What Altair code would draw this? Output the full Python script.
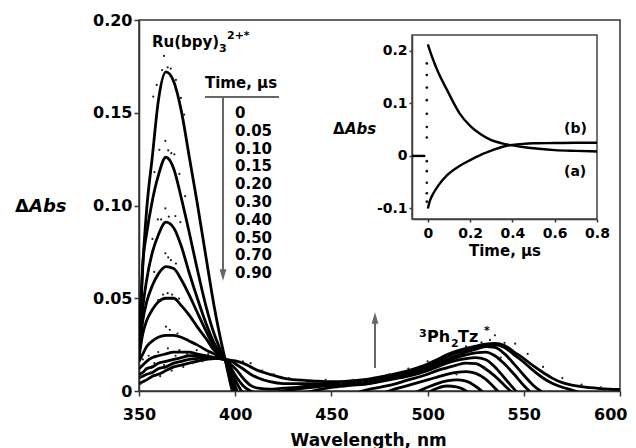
import altair as alt
import pandas as pd

# ---------------- data ----------------
times = ["0", "0.05", "0.10", "0.15", "0.20", "0.30", "0.40", "0.50", "0.70", "0.90"]

wavelength = [350, 352, 354, 357, 360, 364, 368, 372, 376, 380, 385, 389, 392, 395, 398,
              401, 404, 408, 412, 418, 425, 432, 440, 450, 460, 470, 480, 490, 500, 505,
              510, 515, 520, 525, 530, 535, 540, 545, 550, 555, 560, 565, 570, 575, 580,
              590, 600]

abs_t000 = [0.022, 0.068, 0.098, 0.127, 0.156, 0.172, 0.167, 0.151, 0.127, 0.103, 0.071, 0.046, 0.030, 0.016, 0.002,
            -0.010, -0.022, -0.03, -0.03, -0.03, -0.03, -0.03, -0.03, -0.03, -0.03, -0.03, -0.03, -0.03, -0.03, -0.03,
            -0.03, -0.03, -0.03, -0.03, -0.03, -0.03, -0.03, -0.03, -0.03, -0.03, -0.03, -0.03, -0.03, -0.03, -0.03,
            -0.03, -0.03]
abs_t005 = [0.022, 0.069, 0.085, 0.103, 0.116, 0.126, 0.120, 0.104, 0.086, 0.067, 0.045, 0.031, 0.023, 0.016, 0.003,
            -0.008, -0.018, -0.02, -0.02, -0.02, -0.02, -0.02, -0.02, -0.02, -0.02, -0.02, -0.018, -0.010, -0.001, 0.0015,
            0.0027, 0.0022, 0.0, -0.005, -0.012, -0.02, -0.02, -0.02, -0.02, -0.02, -0.02, -0.02, -0.02, -0.02, -0.02,
            -0.02, -0.02]
abs_t010 = [0.020, 0.045, 0.060, 0.075, 0.084, 0.091, 0.088, 0.078, 0.064, 0.051, 0.036, 0.026, 0.021, 0.017, 0.005,
            -0.004, -0.012, -0.018, -0.02, -0.02, -0.02, -0.02, -0.02, -0.02, -0.02, -0.02, -0.012, -0.003, 0.002, 0.004,
            0.0054, 0.006, 0.0053, 0.0025, -0.002, -0.01, -0.02, -0.02, -0.02, -0.02, -0.02, -0.02, -0.02, -0.02, -0.02,
            -0.02, -0.02]
abs_t015 = [0.020, 0.038, 0.048, 0.057, 0.063, 0.067, 0.066, 0.060, 0.052, 0.043, 0.032, 0.024, 0.020, 0.017, 0.007,
            -0.002, -0.008, -0.013, -0.016, -0.018, -0.018, -0.018, -0.016, -0.012, -0.008, -0.004, 0.000, 0.003, 0.006, 0.0075,
            0.009, 0.010, 0.0104, 0.0095, 0.0065, 0.0015, -0.004, -0.010, -0.015, -0.02, -0.02, -0.02, -0.02, -0.02, -0.02,
            -0.02, -0.02]
abs_t020 = [0.018, 0.031, 0.038, 0.044, 0.048, 0.050, 0.050, 0.046, 0.041, 0.035, 0.028, 0.022, 0.019, 0.017, 0.009,
            0.000, -0.005, -0.009, -0.011, -0.012, -0.012, -0.011, -0.009, -0.006, -0.002, 0.001, 0.003, 0.006, 0.009, 0.011,
            0.0125, 0.014, 0.015, 0.0148, 0.012, 0.008, 0.003, -0.002, -0.008, -0.013, -0.016, -0.016, -0.016, -0.016, -0.016,
            -0.016, -0.016]
abs_t030 = [0.016, 0.020, 0.024, 0.027, 0.029, 0.030, 0.030, 0.029, 0.027, 0.025, 0.022, 0.020, 0.018, 0.017, 0.011,
            0.004, -0.001, -0.004, -0.005, -0.005, -0.004, -0.002, 0.000, 0.002, 0.003, 0.004, 0.006, 0.008, 0.011, 0.013,
            0.015, 0.0165, 0.0175, 0.018, 0.017, 0.013, 0.007, 0.001, -0.005, -0.010, -0.013, -0.013, -0.013, -0.013, -0.013,
            -0.013, -0.013]
abs_t040 = [0.012, 0.014, 0.016, 0.018, 0.019, 0.020, 0.021, 0.021, 0.021, 0.020, 0.019, 0.018, 0.0175, 0.017, 0.012,
            0.007, 0.003, 0.000, -0.001, -0.001, 0.000, 0.001, 0.002, 0.003, 0.004, 0.005, 0.007, 0.009, 0.012, 0.014,
            0.016, 0.018, 0.0195, 0.0205, 0.021, 0.019, 0.0145, 0.009, 0.003, -0.002, -0.006, -0.01, -0.01, -0.01, -0.01,
            -0.01, -0.01]
abs_t050 = [0.009, 0.010, 0.012, 0.013, 0.015, 0.016, 0.017, 0.018, 0.019, 0.019, 0.0185, 0.018, 0.0175, 0.017, 0.014,
            0.011, 0.007, 0.003, 0.0015, 0.001, 0.0015, 0.002, 0.003, 0.0035, 0.0045, 0.0055, 0.0075, 0.010, 0.013, 0.015,
            0.017, 0.019, 0.021, 0.0225, 0.024, 0.0235, 0.020, 0.0145, 0.0085, 0.003, -0.001, -0.005, -0.008, -0.008, -0.008,
            -0.008, -0.008]
abs_t070 = [0.007, 0.008, 0.009, 0.010, 0.012, 0.013, 0.015, 0.016, 0.017, 0.0175, 0.018, 0.018, 0.0175, 0.017, 0.016,
            0.014, 0.012, 0.009, 0.007, 0.005, 0.004, 0.004, 0.004, 0.004, 0.005, 0.006, 0.008, 0.0105, 0.0135, 0.016,
            0.0185, 0.0205, 0.0222, 0.0236, 0.0248, 0.025, 0.0235, 0.0195, 0.0155, 0.011, 0.007, 0.004, 0.002, 0.0005, -0.001,
            -0.003, -0.004]
abs_t090 = [0.004, 0.005, 0.006, 0.008, 0.009, 0.011, 0.013, 0.014, 0.015, 0.016, 0.017, 0.0175, 0.0175, 0.017, 0.0165,
            0.016, 0.015, 0.013, 0.011, 0.009, 0.007, 0.006, 0.0055, 0.005, 0.0055, 0.0065, 0.0085, 0.011, 0.0145, 0.017,
            0.0195, 0.0215, 0.023, 0.0242, 0.0252, 0.0256, 0.0245, 0.021, 0.0175, 0.0135, 0.010, 0.0068, 0.0045, 0.0032, 0.0023,
            0.0013, 0.0008]

# scattered measured points
dot_wl = [363, 362, 364.9, 366.5, 359.2, 357.4, 369.2, 371.8, 373.5, 363.7, 360.6, 365.2, 366.8, 368.4, 358.0,
          371.0, 374.0, 363.7, 359.8, 361.5, 365.5, 368.9, 371.5, 357.0, 363.7, 365.2, 369.2, 357.9, 366.6, 364.9,
          370.8, 360.0, 362.5, 367.2, 364.0, 366.0, 355.4, 370.0, 358.0, 352.0, 353.5, 355.0, 356.0, 358.0, 360.0,
          361.0, 363.0, 365.0, 367.0, 369.0, 371.0, 373.0, 375.0, 378.0, 380.0, 383.0, 386.0, 350.5, 351.0, 404,
          408, 414, 420, 428, 436, 447, 455, 461, 466, 535, 532.4, 540, 545.5, 528, 520,
          552, 560, 570, 580, 590, 525, 530, 515, 538, 510, 500, 490, 480]
dot_abs = [0.1806, 0.1730, 0.1745, 0.1738, 0.1650, 0.1587, 0.1677, 0.1580, 0.1490, 0.1348, 0.1300, 0.1297, 0.1282, 0.1276, 0.1180,
           0.1170, 0.1050, 0.0985, 0.0925, 0.0925, 0.0940, 0.0943, 0.0910, 0.0820, 0.0742, 0.0720, 0.0687, 0.0642, 0.0705, 0.0527,
           0.0498, 0.0490, 0.0520, 0.0520, 0.0347, 0.0330, 0.0259, 0.0310, 0.0280, 0.0170, 0.0120, 0.0190, 0.0100, 0.0150, 0.0210,
           0.0080, 0.0140, 0.0230, 0.0110, 0.0190, 0.0220, 0.0130, 0.0200, 0.0150, 0.0220, 0.0160, 0.0200, 0.0080, 0.0040, 0.0160,
           0.0150, 0.0110, 0.0090, 0.0070, 0.0060, 0.0060, 0.0040, 0.0060, 0.0050, 0.0300, 0.0275, 0.0260, 0.0255, 0.0262, 0.0240,
           0.0200, 0.0130, 0.0070, 0.0035, 0.0020, 0.0150, 0.0120, 0.0090, 0.0180, 0.0190, 0.0160, 0.0120, 0.0090]

# inset kinetic traces
inset_t = [0, 0.01, 0.025, 0.05, 0.09, 0.15, 0.2, 0.25, 0.3, 0.35, 0.4, 0.45, 0.5, 0.6, 0.7, 0.8]
trace_a = [0.212, 0.200, 0.183, 0.158, 0.126, 0.081, 0.057, 0.041, 0.030, 0.024, 0.020, 0.017, 0.0145, 0.011, 0.0095, 0.0085]
trace_b = [-0.100, -0.085, -0.072, -0.056, -0.037, -0.019, -0.008, 0.002, 0.010, 0.017, 0.021, 0.023, 0.024, 0.0245, 0.025, 0.025]
pre_t = [-0.075, -0.012]
pre_v = [0.0, 0.0]
spike_t = -0.005
spike_v = [0.176, 0.154, 0.130, 0.106, 0.080, 0.055, 0.035, -0.010, -0.029, -0.051, -0.071, -0.087]

main_x_ticks = [350, 400, 450, 500, 550, 600]
main_y_ticks = [0, 0.05, 0.10, 0.15, 0.20]
inset_x_ticks = [0, 0.2, 0.4, 0.6, 0.8]
inset_y_ticks = [-0.1, 0, 0.1, 0.2]

# ---------------- tables ----------------
curves = [abs_t000, abs_t005, abs_t010, abs_t015, abs_t020, abs_t030, abs_t040, abs_t050, abs_t070, abs_t090]
rows = []
for tname, vals in zip(times, curves):
    for w, v in zip(wavelength, vals):
        rows.append({"wl": w, "abs": v, "time": tname})
spec_df = pd.DataFrame(rows)
dots_df = pd.DataFrame({"wl": dot_wl, "abs": dot_abs})

trace_rows = []
for name, vals in (("a", trace_a), ("b", trace_b)):
    for t, v in zip(inset_t, vals):
        trace_rows.append({"t": t, "v": v, "s": name})
trace_df = pd.DataFrame(trace_rows)
pre_df = pd.DataFrame({"t": pre_t, "v": pre_v})
spike_df = pd.DataFrame({"t": [spike_t] * len(spike_v), "v": spike_v})
frame_df = pd.DataFrame({"t": [-0.075], "t2": [0.8], "v": [-0.12], "v2": [0.23]})
one = pd.DataFrame({"k": [0]})

FONT = "DejaVu Sans"
OX, OY = 139, 20          # page position of the plot origin
W, H = 481, 371

x_main = alt.X("wl:Q", scale=alt.Scale(domain=[350, 600], nice=False, zero=False),
               axis=alt.Axis(values=main_x_ticks, title="Wavelength, nm", format="d",
                             titleX=151, titleY=54, titleAlign="left", titleBaseline="alphabetic",
                             titleFontSize=17, labelPadding=10,
                             labelAlign=alt.condition("datum.value == 600", alt.value("right"), alt.value("center")),
                             labelOffset=alt.condition("datum.value == 600", alt.value(7), alt.value(0))))
y_main = alt.Y("abs:Q", scale=alt.Scale(domain=[0, 0.2], nice=False, zero=False),
               axis=alt.Axis(values=main_y_ticks, title=None, labelPadding=2,
                             labelExpr="datum.value == 0 ? '0' : format(datum.value, '.2f')"))

lines = alt.Chart(spec_df).mark_line(clip=True, interpolate="monotone", color="black",
                                     strokeWidth=2.8).encode(x=x_main, y=y_main, detail="time:N")
dots = alt.Chart(dots_df).mark_circle(size=5, color="#222", opacity=1, clip=True).encode(x=x_main, y=y_main)


def txt(s, px, py, size, italic=False, align="left", color="black"):
    return alt.Chart(one).mark_text(text=s, font=FONT, fontSize=size, fontWeight="bold",
                                    fontStyle="italic" if italic else "normal", color=color,
                                    align=align, baseline="alphabetic").encode(
        x=alt.value(px - OX), y=alt.value(py - OY))


def hrule(x1, x2, y, color="#666", w=2):
    return alt.Chart(one).mark_rule(color=color, strokeWidth=w).encode(
        x=alt.value(x1 - OX), x2=alt.value(x2 - OX), y=alt.value(y - OY))


def vrule(x, y1, y2, color="#666", w=2):
    return alt.Chart(one).mark_rule(color=color, strokeWidth=w).encode(
        x=alt.value(x - OX), y=alt.value(y1 - OY), y2=alt.value(y2 - OY))


def head(x, y, down=True, color="#666"):
    shape = "M-0.6,-1L0.6,-1L0,1Z" if down else "M-0.6,1L0.6,1L0,-1Z"
    return alt.Chart(one).mark_point(shape=shape, filled=True, size=130, color=color,
                                     opacity=1, strokeWidth=0).encode(
        x=alt.value(x - OX), y=alt.value(y - OY))


annots = [
    txt("Ru(bpy)", 152, 47, 15),
    txt("3", 219, 52, 11),
    txt("2+*", 227, 39, 11),
    txt("Time, μs", 205, 88, 15),
    hrule(205, 279, 97),
    vrule(223, 97, 271),
    head(223, 275, True),
    txt("Δ", 15, 212, 18),
    txt("Abs", 29, 212, 18, italic=True),
    txt("3", 419, 337, 11),
    txt("Ph", 427, 342, 16),
    txt("2", 451, 347, 11),
    txt("Tz", 458, 342, 16),
    txt("*", 484, 334, 11),
    vrule(375, 368, 320),
    head(375, 318, False),
]
for i, lab in enumerate(times):
    annots.append(txt(lab, 235, 118 + 17.8 * i, 15))

main_layer = alt.layer(lines, dots, *annots)

# ---------------- inset ----------------
ix = alt.X("t:Q", scale=alt.Scale(domain=[-0.075, 0.8], range=[412 - OX, 597 - OX], nice=False, zero=False),
           axis=alt.Axis(orient="bottom", offset=-(H - (219 - OY)), values=inset_x_ticks, title=None,
                         labelFontSize=14, tickSize=3, labelPadding=4,
                         labelExpr="datum.value == 0 ? '0' : format(datum.value, '.1f')"))
iy = alt.Y("v:Q", scale=alt.Scale(domain=[-0.12, 0.23], range=[219 - OY, 35 - OY], nice=False, zero=False),
           axis=alt.Axis(orient="left", offset=-(412 - OX), values=inset_y_ticks, title=None,
                         labelFontSize=14, tickSize=3, labelPadding=2,
                         labelExpr="datum.value == 0 ? '0' : (datum.value < 0 ? '-' : '') + format(abs(datum.value), '.1f')"))

frame = alt.Chart(frame_df).mark_rect(fillOpacity=0, stroke="#444", strokeWidth=1.5).encode(
    x=ix, x2="t2:Q", y=iy, y2="v2:Q")
traces = alt.Chart(trace_df).mark_line(interpolate="monotone", color="black", strokeWidth=2.4).encode(
    x=ix, y=iy, detail="s:N")
pre = alt.Chart(pre_df).mark_line(color="black", strokeWidth=2.4).encode(x=ix, y=iy)
spike = alt.Chart(spike_df).mark_circle(size=7, color="#111", opacity=1).encode(x=ix, y=iy)

inset_annots = [
    txt("(b)", 564, 133, 14),
    txt("(a)", 564, 176, 14),
    txt("Δ", 333, 134, 15),
    txt("Abs", 345, 134, 15, italic=True),
    txt("Time, μs", 505, 256, 15, align="center"),
]
inset_layer = alt.layer(frame, traces, pre, spike, *inset_annots)

chart = alt.layer(main_layer, inset_layer).resolve_scale(x="independent", y="independent").properties(
    width=W, height=H,
    padding={"left": OX - 8, "top": OY - 8, "right": 8, "bottom": 448 - 8 - (OY - 8) - H},
    autosize=alt.AutoSizeParams(type="none"),
).configure_view(stroke="#333", strokeWidth=1.5).configure_axis(
    labelFont=FONT, labelFontSize=16, labelFontWeight="bold", labelColor="black", labelFlush=False,
    titleFont=FONT, titleFontWeight="bold", titleColor="black",
    domainColor="#333", domainWidth=1.5, tickColor="#333", tickWidth=1.5, tickSize=5, grid=False,
)

chart.save("out.html", embed_options={"renderer": "svg", "actions": False})
